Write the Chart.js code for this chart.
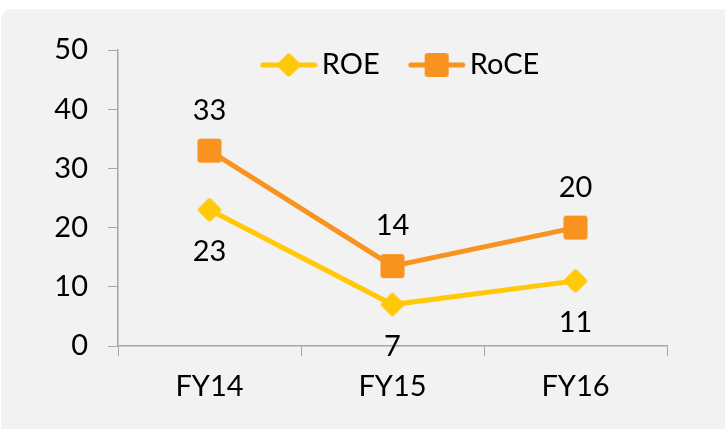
<!DOCTYPE html>
<html>
<head>
<meta charset="utf-8">
<script src="https://cdn.jsdelivr.net/npm/chart.js@4"></script>
<style>
  html, body { margin: 0; padding: 0; background: #fff; }
  #panel {
    position: absolute; left: 1px; top: 9px; width: 740px; height: 440px;
    background: #f2f2f2; border-radius: 10px;
  }
  #wrap { position: absolute; left: 0; top: 0; width: 725px; height: 429px; }
</style>
</head>
<body>
<div id="panel"></div>
<div id="wrap"><canvas id="chart1"></canvas></div>
<script>
const categories = ['FY14', 'FY15', 'FY16'];
const roe = [23, 7, 11];
const roce = [33, 13.5, 20];
const yTicks = [0, 10, 20, 30, 40, 50];

const yellow = '#ffc90a';
const orange = '#f7931e';
const fontFam = 'Lato, "DejaVu Sans", sans-serif';
const fontSize = 29;

function roundRect(ctx, x, y, w, h, r) {
  ctx.beginPath();
  ctx.moveTo(x + r, y);
  ctx.arcTo(x + w, y, x + w, y + h, r);
  ctx.arcTo(x + w, y + h, x, y + h, r);
  ctx.arcTo(x, y + h, x, y, r);
  ctx.arcTo(x, y, x + w, y, r);
  ctx.closePath();
}

// marker images (withLine = legend version)
function marker(kind, color, withLine) {
  const c = document.createElement('canvas');
  c.width = withLine ? 58 : 28;
  c.height = 28;
  const ctx = c.getContext('2d');
  const cx = c.width / 2, cy = 14;
  if (withLine) {
    ctx.strokeStyle = color;
    ctx.lineWidth = 5;
    ctx.lineCap = 'round';
    ctx.beginPath();
    ctx.moveTo(3, cy);
    ctx.lineTo(c.width - 3, cy);
    ctx.stroke();
  }
  ctx.fillStyle = color;
  if (kind === 'square') {
    roundRect(ctx, cx - 12, cy - 12, 24, 24, 3);
    ctx.fill();
  } else {
    ctx.save();
    ctx.translate(cx, cy);
    ctx.rotate(Math.PI / 4);
    roundRect(ctx, -9, -9, 18, 18, 3);
    ctx.fill();
    ctx.restore();
  }
  return c;
}

const valueLabels = {
  id: 'valueLabels',
  afterDatasetsDraw(chart) {
    const ctx = chart.ctx;
    ctx.save();
    ctx.font = fontSize + 'px ' + fontFam;
    ctx.fillStyle = '#000';
    ctx.textAlign = 'center';
    ctx.textBaseline = 'middle';
    chart.data.datasets.forEach((ds, i) => {
      const meta = chart.getDatasetMeta(i);
      meta.data.forEach((pt, j) => {
        const dy = ds.labelPos === 'above' ? -40 : 42;
        ctx.fillText(String(Math.round(ds.data[j])), pt.x, pt.y + dy);
      });
    });

    // legend with line + marker
    const area = chart.chartArea;
    const y = area.top + 15;
    const gap = 4, between = 28;
    const items = chart.data.datasets.map(ds => ({ img: ds.legendImg, text: ds.label, w: ctx.measureText(ds.label).width }));
    let total = 0;
    items.forEach((it, k) => { total += it.img.width + gap + it.w + (k ? between : 0); });
    let x = (area.left + area.right) / 2 + 7 - total / 2;
    ctx.textAlign = 'left';
    items.forEach(it => {
      ctx.drawImage(it.img, x, y - it.img.height / 2);
      x += it.img.width + gap;
      ctx.fillText(it.text, x, y);
      x += it.w + between;
    });
    ctx.restore();
  }
};

new Chart(document.getElementById('chart1'), {
  type: 'line',
  data: {
    labels: categories,
    datasets: [{
      label: 'ROE',
      data: roe,
      borderColor: yellow,
      backgroundColor: yellow,
      borderWidth: 5,
      pointStyle: marker('diamond', yellow, false),
      legendImg: marker('diamond', yellow, true),
      labelPos: 'below'
    }, {
      label: 'RoCE',
      data: roce,
      borderColor: orange,
      backgroundColor: orange,
      borderWidth: 5,
      pointStyle: marker('square', orange, false),
      legendImg: marker('square', orange, true),
      labelPos: 'above'
    }]
  },
  options: {
    responsive: true,
    maintainAspectRatio: false,
    animation: false,
    layout: { padding: { left: 0, right: 58, top: 50, bottom: 0 } },
    plugins: {
      tooltip: { enabled: false },
      legend: { display: false }
    },
    scales: {
      x: {
        offset: true,
        grid: { offset: true, drawOnChartArea: false, tickLength: 10, color: '#a6a6a6' },
        border: { color: '#a6a6a6', width: 1.5 },
        ticks: { color: '#000', font: { family: fontFam, size: fontSize }, padding: 13 },
        afterFit(s) { s.height = 83; }
      },
      y: {
        min: 0, max: 50,
        afterBuildTicks(s) { s.ticks = yTicks.map(v => ({ value: v })); },
        grid: { drawOnChartArea: false, tickLength: 10, color: '#a6a6a6' },
        border: { color: '#a6a6a6', width: 1.5 },
        ticks: { color: '#000', font: { family: fontFam, size: fontSize }, padding: 20 },
        afterFit(s) { s.width = 118; }
      }
    }
  },
  plugins: [valueLabels]
});
</script>
</body>
</html>
